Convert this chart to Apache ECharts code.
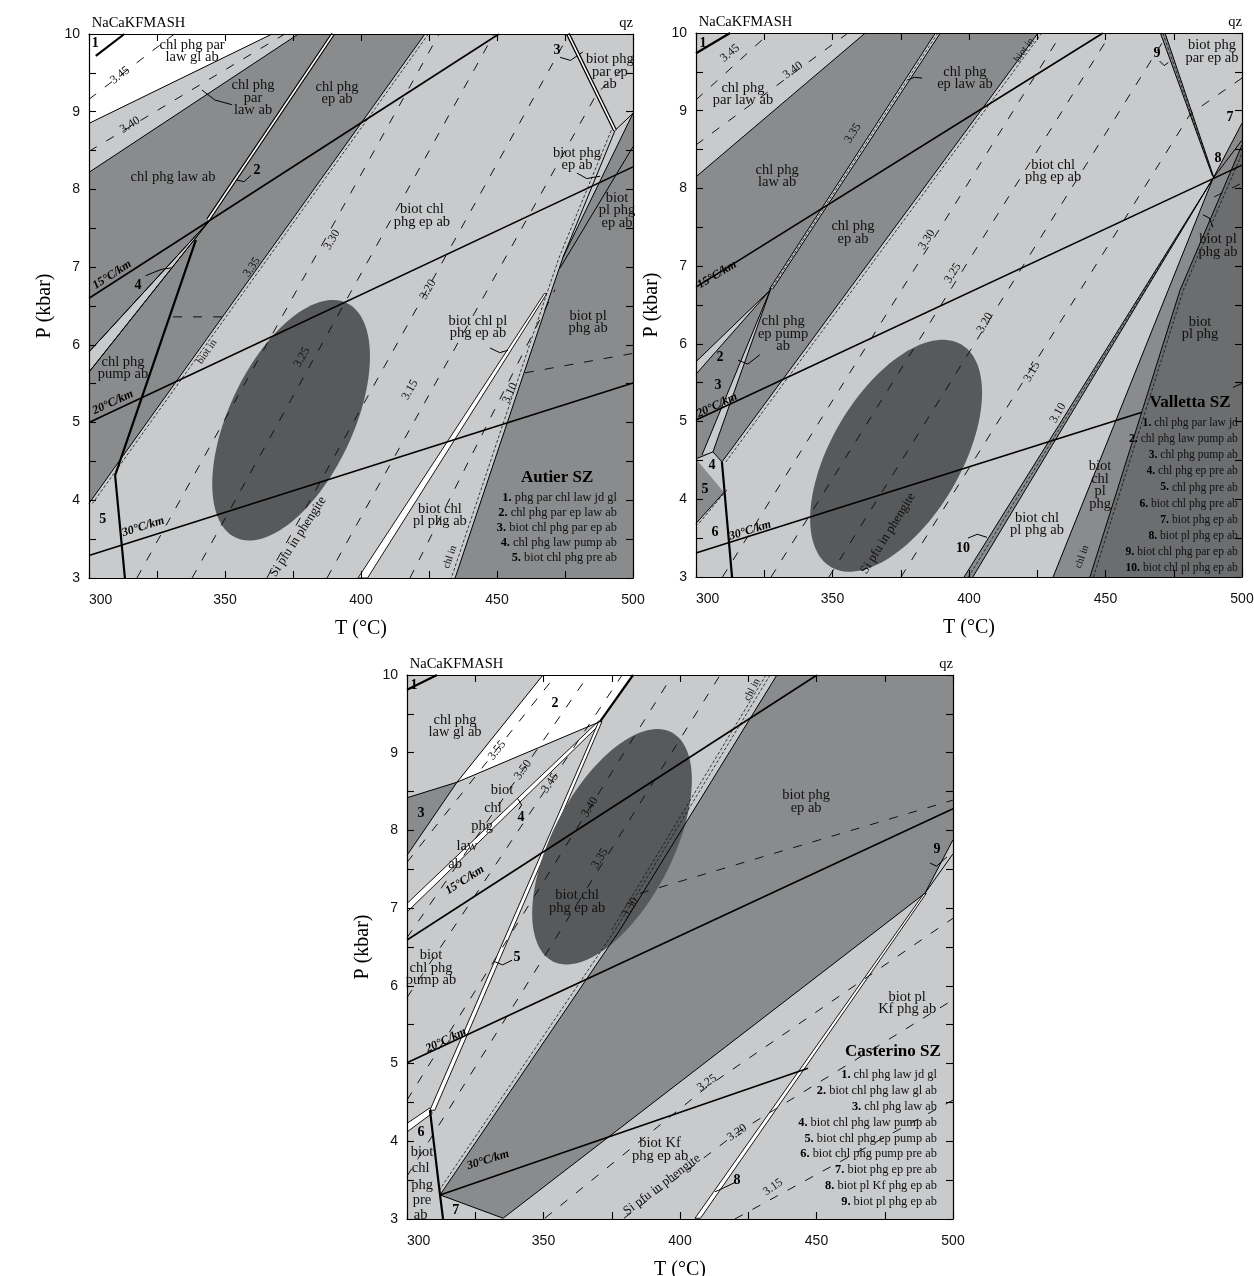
<!DOCTYPE html>
<html><head><meta charset="utf-8">
<script src="https://cdn.jsdelivr.net/npm/echarts@6.0.0/dist/echarts.min.js"></script>
<style>html,body{margin:0;padding:0;background:#fff}#chart{width:1254px;height:1276px}</style>
</head><body><div id="chart"></div>
<script>
// ================= DATA (T in °C, P in kbar) =================
const temperatureTicks = [300, 350, 400, 450, 500];
const pressureTicks = [3, 4, 5, 6, 7, 8, 9, 10];

// ---------- Autier SZ ----------
const autierBase = [[[300,3],[500,3],[500,10],[300,10]]];
const autierWhite = [[[300,10],[300,8.85],[367.3,10]]];
const autierMedium = [
  [[300,8.22],[377,10],[423.5,10],[300,3.96]],
  [[500,8.98],[474.3,7.13],[470.2,6.71],[434.6,3],[500,3]]
];
const autierLightOver = [[[300,5.91],[344.1,7.59],[300,5.65]]];
const autierWhiteStrips = [[[398.9,3],[402.4,3],[468.3,6.66],[467.4,6.66]]];
const autierEllipse = {center:[374.3,5.03], major:[20.4,1.51], minor:[20.6,-0.341]};
const autierSolid = [
  [[300,8.85],[367.3,10]], [[300,8.22],[377,10]], [[423.5,10],[300,3.96]],
  [[493.4,8.76],[500,8.98]], [[500,8.98],[474.3,7.13]],
  [[493.4,8.76],[474.3,7.13],[470.2,6.71],[434.6,3]],
  [[500,8.55],[473.2,6.99]],
  [[300,5.91],[344.1,7.59]], [[300,5.65],[344.1,7.59]]
];
const autierThick = [[[302.5,9.72],[313,10]], [[339.3,7.35],[309.6,4.32],[313.2,3]]];
const autierDouble = [[[389.7,10],[343.8,7.61]], [[476.1,10],[493.4,8.76]]];
const autierGeotherms = [[[300,6.60],[450.7,10]], [[300,5.0],[500,8.29]], [[300,3.29],[500,5.51]]];
const autierFine = [[[424.8,10],[301.3,3.96]], [[492,8.76],[472.9,7.13],[468.8,6.71],[433.2,3]]];
const autierIsopleths = [
  [[300,9.16],[331.4,10]], [[300,8.49],[372,10]],
  [[317.6,3],[428.7,10]], [[337.9,3],[448.9,10]], [[365.4,3],[476.5,10]],
  [[387.5,3],[486.8,9.24],[500,9.67]], [[418,3],[471.3,6.71]],
  [[460.3,5.64],[500,5.89]], [[330.9,6.36],[348.9,6.36]]
];
const autierPointers = [
  [[341.5,9.28],[346.3,9.15],[352.6,9.09]], [[354.4,8.12],[357,8.10],[359.5,8.18]],
  [[320.8,6.89],[326.5,6.97],[330.2,6.99]], [[473.2,9.70],[477,9.66],[481.6,9.77]],
  [[479.4,8.21],[483,8.14],[487.9,8.17]], [[447.4,5.96],[451,5.90],[454,5.93]]
];
const autierLabels = [
  ['NaCaKFMASH',301,10.14,0,'hl'], ['qz',500,10.14,0,'hr'],
  ['1',302.3,9.88,0,'n'], ['chl phg par\nlaw gl ab',337.9,9.78,0,'f'], ['3.45',311.4,9.47,38,'i'],
  ['chl phg\npar\nlaw ab',360.3,9.18,0,'f'], ['chl phg\nep ab',391.2,9.24,0,'f'], ['3.40',315.1,8.83,32,'i'],
  ['chl phg law ab',330.9,8.16,0,'f'], ['2',361.8,8.25,0,'n'], ['15°C/km',308.5,6.90,33,'g'],
  ['4',318.0,6.77,0,'n'], ['3.35',359.9,7.0,55,'i'], ['3.30',389.3,7.35,60,'i'],
  ['biot chl\nphg ep ab',422.4,7.66,0,'f'], ['3.20',424.6,6.71,60,'i'], ['3',472.1,9.79,0,'n'],
  ['biot phg\npar ep\nab',491.5,9.51,0,'f'], ['biot phg\nep ab',479.4,8.39,0,'f'],
  ['biot\npl phg\nep ab',494.1,7.73,0,'f'], ['biot chl pl\nphg ep ab',443.0,6.23,0,'f'],
  ['biot pl\nphg ab',483.5,6.29,0,'f'], ['3.15',418.0,5.42,60,'i'], ['3.10',454.8,5.38,65,'i'],
  ['biot chl\npl phg ab',429.0,3.81,0,'f'], ['chl in',432.7,3.27,71,'s'],
  ['chl phg\npump ab',312.5,5.70,0,'f'], ['biot in',343.4,5.91,55,'s'], ['20°C/km',308.8,5.26,25,'g'],
  ['5',305.1,3.75,0,'n'], ['30°C/km',319.9,3.66,17.5,'g'], ['3.25',378.3,5.84,60,'i'],
  ['Si pfu in phengite',376.8,3.53,57,'f2'], ['Autier SZ',472.1,4.29,0,'t']
];
const autierLegend = ['phg par chl law jd gl','chl phg par ep law ab','biot chl phg par ep ab','chl phg law pump ab','biot chl phg pre ab'];

// ---------- Valletta SZ ----------
const vallettaBase = [[[300,3],[500,3],[500,10],[300,10]]];
const vallettaMedium = [
  [[300,8.15],[362,10],[425.3,10],[309.5,4.48],[306.2,4.61],[300,4.52]],
  [[300,4.52],[310.3,4.09],[300,3.69]],
  [[398.2,3],[401.4,3],[489.4,8.13]],
  [[430.8,3],[444.3,3],[477.3,6.69],[500,8.56],[500,8.84],[489.4,8.13]],
  [[470.1,10],[471.8,10],[489.8,8.13],[489.2,8.16]]
];
const vallettaDark = [[[444.3,3],[500,3],[500,8.56],[477.3,6.69]]];
const vallettaLightOver = [
  [[327.1,6.69],[300,5.77],[300,5.61]],
  [[327.5,6.72],[302.2,4.57],[306.2,4.61]],
  [[300,4.52],[306.2,4.61],[309.5,4.48],[310.3,4.09]],
  [[387.7,10],[389.5,10],[328,6.70],[326.8,6.70]]
];
const vallettaEllipse = {center:[373.3,4.56], major:[23.9,1.431], minor:[20.5,-0.423]};
const vallettaSolid = [
  [[300,8.15],[362,10]], [[425.3,10],[309.5,4.48]], [[310.3,4.09],[300,3.69]],
  [[300,4.52],[306.2,4.61],[309.5,4.48]], [[489.4,8.13],[500,8.84]], [[489.4,8.13],[500,8.62]],
  [[430.8,3],[489.4,8.13]], [[444.3,3],[477.3,6.69],[500,8.56]], [[496.7,5.44],[500,5.49]],
  [[398.2,3],[489.4,8.13]], [[401.4,3],[489.4,8.13]], [[470.1,10],[489.2,8.16]], [[471.8,10],[489.8,8.13]],
  [[327.1,6.69],[300,5.77]], [[327.1,6.69],[300,5.61]], [[327.5,6.72],[302.2,4.57]], [[327.5,6.72],[306.2,4.61]],
  [[387.7,10],[326.8,6.70]], [[389.5,10],[328,6.70]]
];
const vallettaThick = [[[300,9.74],[312.5,10]], [[309.5,4.48],[313.2,3]]];
const vallettaGeotherms = [[[300,6.73],[449.1,10]], [[300,5.02],[500,8.30]], [[300,3.31],[463.4,5.12]]];
const vallettaFine = [
  [[426.7,10],[310.9,4.48]], [[311.3,4.12],[300.6,3.67]], [[445.6,3],[478.5,6.69],[500,8.45]],
  [[388.6,10],[327.4,6.70]], [[399.8,3],[489.4,8.13]], [[471,10],[489.5,8.14]]
];
const vallettaIsopleths = [
  [[300,9.14],[327,10]], [[300,8.56],[355.7,10]],
  [[309.7,3],[434,10]], [[327.5,3],[452,10]], [[348.7,3],[473,10]],
  [[375.1,3],[481.1,8.96],[500,9.42]], [[489.8,7.89],[500,8.07]]
];
const vallettaPointers = [
  [[377.7,9.40],[380,9.43],[382.8,9.42]], [[315.4,5.79],[319,5.74],[323.4,5.86]],
  [[399.6,3.50],[403,3.55],[406.6,3.51]], [[469.8,9.64],[471.5,9.58],[473,9.62]],
  [[485.7,7.66],[488,7.62],[489.4,7.50]]
];
const vallettaLabels = [
  ['NaCaKFMASH',301,10.14,0,'hl'], ['qz',500,10.14,0,'hr'],
  ['1',302.6,9.87,0,'n'], ['3.45',312.5,9.74,40,'i'], ['3.40',335.5,9.52,36,'i'],
  ['chl phg\npar law ab',317.2,9.21,0,'f'], ['chl phg\nep law ab',398.5,9.42,0,'f'], ['3.35',357.5,8.71,57,'i'],
  ['chl phg\nlaw ab',329.7,8.16,0,'f'], ['chl phg\nep ab',357.5,7.43,0,'f'], ['15°C/km',307.7,6.89,31,'g'],
  ['3.30',384.6,7.34,58,'i'], ['3.25',394.1,6.91,58,'i'], ['biot in',420.2,9.78,54,'s'],
  ['biot chl\nphg ep ab',430.8,8.22,0,'f'], ['9',468.9,9.74,0,'n'], ['biot phg\npar ep ab',489.0,9.76,0,'f'],
  ['7',495.6,8.91,0,'n'], ['8',491.2,8.39,0,'n'], ['biot pl\nphg ab',491.2,7.26,0,'f'],
  ['chl phg\nep pump\nab',331.9,6.13,0,'f'], ['2',308.8,5.82,0,'n'], ['3',308.1,5.47,0,'n'],
  ['20°C/km',307.7,5.21,25,'g'], ['4',305.9,4.44,0,'n'], ['5',303.3,4.13,0,'n'], ['6',307.0,3.57,0,'n'],
  ['30°C/km',319.8,3.60,17,'g'], ['Si pfu in phengite',370.3,3.56,58,'f2'], ['10',397.8,3.37,0,'n'],
  ['3.20',405.9,6.27,60,'i'], ['3.15',423.1,5.64,60,'i'], ['3.10',432.6,5.11,60,'i'],
  ['biot\npl phg',484.6,6.20,0,'f'], ['Valletta SZ',481.0,5.25,0,'t'],
  ['biot chl\npl phg ab',424.9,3.68,0,'f'], ['biot\nchl\npl\nphg',448.0,4.18,0,'f'], ['chl in',441.4,3.26,70,'s']
];
const vallettaLegend = ['chl phg par law jd','chl phg law pump ab','chl phg pump ab','chl phg ep pre ab','chl phg pre ab','biot chl phg pre ab','biot phg ep ab','biot pl phg ep ab','biot chl phg par ep ab','biot chl pl phg ep ab'];

// ---------- Casterino SZ ----------
const casterinoBase = [[[300,3],[500,3],[500,10],[300,10]]];
const casterinoWhite = [[[318.3,8.62],[349.8,10],[382.8,10],[370.7,9.40]]];
const casterinoMedium = [
  [[300,8.42],[318.3,8.62],[300,7.68]],
  [[435.5,10],[500,10],[500,7.88],[489.7,7.19],[335.2,3.01],[312.1,3.31],[378.0,6.72]]
];
const casterinoWhiteStrips = [
  [[300,7.06],[370.3,9.41],[371.1,9.38],[300,6.95]],
  [[370.2,9.40],[371.4,9.40],[310.2,4.40],[308.4,4.40]],
  [[300,4.23],[308.4,4.43],[309.2,4.36],[300,4.12]],
  [[405.5,3.01],[407.5,3.01],[490.2,7.19],[489.4,7.19]]
];
const casterinoEllipse = {center:[375.1,7.79], major:[21.8,1.472], minor:[19.5,-0.357]};
const casterinoSolid = [
  [[300,8.42],[318.3,8.62],[349.8,10]], [[318.3,8.62],[300,7.68]], [[318.3,8.62],[370.7,9.40]],
  [[312.1,3.31],[378.0,6.72],[435.5,10]], [[489.7,7.19],[500,7.88]], [[312.1,3.31],[335.2,3.01]],
  [[335.2,3.01],[489.7,7.19]], [[489.7,7.19],[500,7.70]]
];
const casterinoThick = [[[300,9.81],[311,10]], [[370.7,9.40],[382.8,10]], [[308.4,4.40],[312.1,3.31],[313.2,3]]];
const casterinoGeotherms = [[[300,6.59],[450.2,10]], [[300,5.01],[500,8.28]], [[312.1,3.31],[446.9,4.94]]];
const casterinoFine = [[[433,10],[376.3,6.72],[311.4,3.35]], [[431.5,10],[375,6.72]]];
const casterinoIsopleths = [
  [[300,7.59],[354.6,10]], [[300,6.62],[366.5,10]], [[300,5.85],[378.8,10]],
  [[300,4.53],[397.3,10]], [[300,3.55],[414.7,10]], [[385.3,7.19],[500,8.39]],
  [[350.5,3.01],[409.9,4.70],[500,6.87]], [[379.5,3.01],[420.9,4.11],[500,5.82]], [[420.1,3.0],[500,4.53]]
];
const casterinoPointers = [
  [[332.2,6.31],[335,6.27],[338.5,6.33]], [[412.8,3.35],[416,3.40],[420.1,3.47]],
  [[491.6,7.58],[494,7.54],[497.8,7.66]], [[340.5,8.41],[342,8.33],[341,8.27]]
];
const casterinoLabels = [
  ['NaCaKFMASH',301,10.14,0,'hl'], ['qz',500,10.14,0,'hr'],
  ['1',302.6,9.86,0,'n'], ['chl phg\nlaw gl ab',317.6,9.34,0,'f'], ['2',354.2,9.64,0,'n'],
  ['3.55',333.0,9.03,51,'i'], ['3.50',342.5,8.78,55,'i'], ['3.45',352.4,8.61,56,'i'],
  ['3.40',367.0,8.30,58,'i'], ['3.35',370.7,7.64,58,'i'], ['3.30',381.7,7.01,58,'i'],
  ['3',305.1,8.22,0,'n'], ['biot',334.8,8.52,0,'f'], ['chl',331.5,8.29,0,'f'], ['phg',327.5,8.06,0,'f'],
  ['law',322.0,7.80,0,'f'], ['ab',317.6,7.57,0,'f'], ['4',341.8,8.17,0,'n'], ['15°C/km',321.2,7.36,33,'g'],
  ['biot chl\nphg ep ab',362.3,7.08,0,'f'], ['biot phg\nep ab',446.2,8.37,0,'f'], ['chl in',426.4,9.81,62,'s'],
  ['9',494.1,7.76,0,'n'], ['biot\nchl phg\npump ab',308.8,6.23,0,'f'], ['5',340.3,6.37,0,'n'],
  ['20°C/km',314.3,5.30,25,'g'], ['6',305.1,4.11,0,'n'],
  ['biot',305.5,3.86,0,'f'], ['chl',305.0,3.65,0,'f'], ['phg',305.5,3.43,0,'f'], ['pre',305.5,3.24,0,'f'], ['ab',305.0,3.05,0,'f'],
  ['7',317.9,3.11,0,'n'], ['30°C/km',329.7,3.76,17,'g'], ['biot Kf\nphg ep ab',392.7,3.89,0,'f'],
  ['Si pfu in phengite',393.4,3.44,37,'f2'], ['3.25',409.9,4.75,35,'i'], ['3.20',420.9,4.11,35,'i'],
  ['3.15',434.1,3.41,35,'i'], ['8',420.9,3.50,0,'n'], ['biot pl\nKf phg ab',483.2,5.78,0,'f'],
  ['Casterino SZ',478.0,5.15,0,'t']
];
const casterinoLegend = ['chl phg law jd gl','biot chl phg law gl ab','chl phg law ab','biot chl phg law pump ab','biot chl phg ep pump ab','biot chl phg pump pre ab','biot phg ep pre ab','biot pl Kf phg ep ab','biot pl phg ep ab'];

// ================= LAYOUT / STYLE =================
const grids = [
  {left:89, top:34, width:544, height:544},
  {left:696, top:33, width:546, height:544},
  {left:407, top:675, width:546, height:544}
];
const COLORS = {light:'#c9cacc', white:'#ffffff', medium:'#8a8b8d', dark:'#6c6d6f', ellipse:'#58595b'};
const SERIF = '"Liberation Serif","Times New Roman",serif';
const SANS = '"Liberation Sans",Arial,sans-serif';
const LINE_STYLES = {
  solid:{color:'#000', width:1},
  thick:{color:'#000', width:2.2},
  geo:{color:'#000', width:1.6},
  iso:{color:'#111', width:1, type:[9,11]},
  fine:{color:'#111', width:0.8, type:[3,2]},
  ptr:{color:'#000', width:1}
};
const TEXT = {
  f:{fontFamily:SERIF, fontSize:14.5, lineHeight:12.5, fill:'#111', align:'center', verticalAlign:'middle'},
  f2:{fontFamily:SERIF, fontSize:13, fill:'#111', align:'center', verticalAlign:'middle'},
  n:{fontFamily:SERIF, fontSize:14, fontWeight:'bold', fill:'#000', align:'center', verticalAlign:'middle'},
  i:{fontFamily:SERIF, fontSize:12, fill:'#111', align:'center', verticalAlign:'middle'},
  g:{fontFamily:SERIF, fontSize:12, fontWeight:'bold', fontStyle:'italic', fill:'#000', align:'center', verticalAlign:'middle'},
  s:{fontFamily:SERIF, fontSize:10.5, fill:'#111', align:'center', verticalAlign:'middle'},
  t:{fontFamily:SERIF, fontSize:17, fontWeight:'bold', fill:'#000', align:'center', verticalAlign:'middle'},
  hl:{fontFamily:SERIF, fontSize:14.5, fill:'#000', align:'left', verticalAlign:'middle'},
  hr:{fontFamily:SERIF, fontSize:14.5, fill:'#000', align:'right', verticalAlign:'middle'}
};
const panels = [
  {fills:[['light',autierBase,0],['white',autierWhite,0],['medium',autierMedium,0],['light',autierLightOver,1],['white',autierWhiteStrips,1]],
   ellipse:autierEllipse, lines:{solid:autierSolid, thick:autierThick, double:autierDouble, geo:autierGeotherms, fine:autierFine, iso:autierIsopleths, ptr:autierPointers},
   labels:autierLabels, legend:autierLegend, legendPos:{T:494.1, P:4.03, step:0.193, size:12.4}},
  {fills:[['light',vallettaBase,0],['medium',vallettaMedium,0],['dark',vallettaDark,0],['light',vallettaLightOver,0]],
   ellipse:vallettaEllipse, lines:{solid:vallettaSolid, thick:vallettaThick, double:[], geo:vallettaGeotherms, fine:vallettaFine, iso:vallettaIsopleths, ptr:vallettaPointers},
   labels:vallettaLabels, legend:vallettaLegend, legendPos:{T:498.5, P:4.98, step:0.207, size:11.6}},
  {fills:[['light',casterinoBase,0],['white',casterinoWhite,0],['medium',casterinoMedium,0],['white',casterinoWhiteStrips,1]],
   ellipse:casterinoEllipse, lines:{solid:casterinoSolid, thick:casterinoThick, double:[], geo:casterinoGeotherms, fine:casterinoFine, iso:casterinoIsopleths, ptr:casterinoPointers},
   labels:casterinoLabels, legend:casterinoLegend, legendPos:{T:494.1, P:4.85, step:0.203, size:12.4}}
];

// ================= BUILD =================
function base(gi, z){ return {coordinateSystem:'cartesian2d', xAxisIndex:gi*2, yAxisIndex:gi*2, silent:true, animation:false, z:z}; }
function fillSeries(gi, polys, fill, stroke, z){
  return Object.assign(base(gi,z), {type:'custom', clip:true, data:polys.map(p=>p[0]),
    renderItem:(params, api)=>({type:'polygon', shape:{points:polys[params.dataIndex].map(pt=>api.coord(pt))},
      style:{fill:fill, stroke:stroke?'#000':null, lineWidth:stroke?0.9:0}})});
}
function ellipseSeries(gi, e, z){
  return Object.assign(base(gi,z), {type:'custom', clip:true, data:[e.center],
    renderItem:(params, api)=>{
      const pts=[];
      for(let k=0;k<120;k++){const t=2*Math.PI*k/120;
        pts.push(api.coord([e.center[0]+Math.cos(t)*e.major[0]+Math.sin(t)*e.minor[0], e.center[1]+Math.cos(t)*e.major[1]+Math.sin(t)*e.minor[1]]));}
      return {type:'polygon', shape:{points:pts}, style:{fill:COLORS.ellipse}};
    }});
}
function lineSeries(gi, pts, style, z){
  return Object.assign(base(gi,z), {type:'line', data:pts, symbol:'none', showSymbol:false, clip:true, lineStyle:style});
}
function textSeries(gi, items, z){
  return Object.assign(base(gi,z), {type:'custom', clip:false, data:items.map(l=>[l.T,l.P]),
    renderItem:(params, api)=>{
      const l=items[params.dataIndex]; const p=api.coord([l.T,l.P]);
      return {type:'text', x:p[0], y:p[1], rotation:(l.rot||0)*Math.PI/180, style:Object.assign({text:l.text}, l.style)};
    }});
}

const series=[], xAxis=[], yAxis=[];
grids.forEach((g,gi)=>{
  const axisLine={lineStyle:{color:'#000', width:1.2}};
  const tick={inside:true, length:7, lineStyle:{color:'#000', width:1.1}};
  xAxis.push({gridIndex:gi, z:20, type:'value', min:300, max:500, interval:25, position:'bottom', axisLine, axisTick:tick, splitLine:{show:false},
    axisLabel:{formatter:v=>temperatureTicks.includes(v)?String(v):'', color:'#111', fontSize:14, fontFamily:SANS, margin:15, alignMinLabel:'left', alignMaxLabel:'center'},
    name:'T (°C)', nameLocation:'middle', nameGap:41, nameTextStyle:{fontFamily:SERIF, fontSize:20, color:'#000'}});
  xAxis.push({gridIndex:gi, z:20, type:'value', min:300, max:500, interval:25, position:'top', axisLine, axisTick:tick, splitLine:{show:false}, axisLabel:{show:false}});
  yAxis.push({gridIndex:gi, z:20, type:'value', min:3, max:10, interval:0.5, position:'left', axisLine, axisTick:tick, splitLine:{show:false},
    axisLabel:{formatter:v=>pressureTicks.includes(v)?String(v):'', color:'#111', fontSize:14, fontFamily:SANS, margin:9},
    name:'P (kbar)', nameLocation:'middle', nameGap:34, nameTextStyle:{fontFamily:SERIF, fontSize:20, color:'#000'}});
  yAxis.push({gridIndex:gi, z:20, type:'value', min:3, max:10, interval:0.5, position:'right', axisLine, axisTick:tick, splitLine:{show:false}, axisLabel:{show:false}});

  const pn=panels[gi];
  pn.fills.forEach(([c,polys,stroke])=>series.push(fillSeries(gi, polys, COLORS[c], stroke, 1)));
  series.push(ellipseSeries(gi, pn.ellipse, 2));
  ['iso','fine','solid','geo','thick','ptr'].forEach(k=>pn.lines[k].forEach(pts=>series.push(lineSeries(gi, pts, LINE_STYLES[k], 3))));
  pn.lines.double.forEach(pts=>{
    series.push(lineSeries(gi, pts, {color:'#000', width:4}, 3));
    series.push(lineSeries(gi, pts, {color:'#fff', width:1.6}, 3));
  });
  const items = pn.labels.map(l=>({text:l[0], T:l[1], P:l[2], rot:l[3], style:TEXT[l[4]]}));
  const lp = pn.legendPos;
  pn.legend.forEach((s,i)=>items.push({text:'{b|'+(i+1)+'.} '+s, T:lp.T, P:lp.P-i*lp.step, rot:0,
    style:{fontFamily:SERIF, fontSize:lp.size, fill:'#111', align:'right', verticalAlign:'middle',
      rich:{b:{fontFamily:SERIF, fontSize:lp.size, fontWeight:'bold', fill:'#000'}}}}));
  series.push(textSeries(gi, items, 5));
});

const chart = echarts.init(document.getElementById('chart'), null, {renderer:'canvas'});
chart.setOption({
  animation:false, backgroundColor:'#fff',
  grid: grids.map(g=>Object.assign({containLabel:false, outerBoundsMode:'none'}, g)),
  xAxis, yAxis, series
});
</script></body></html>
